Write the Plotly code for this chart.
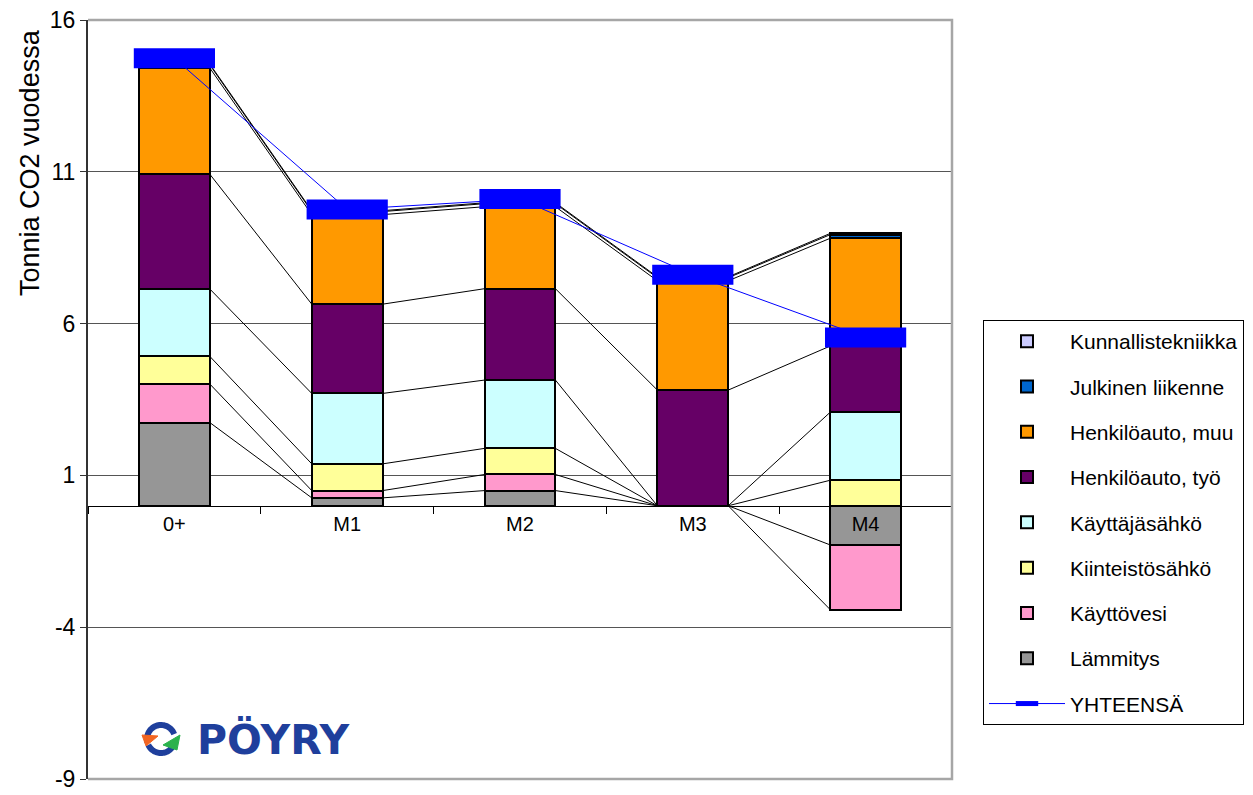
import numpy as np
import plotly.graph_objects as go

# ---------------- data ----------------
categories = ["0+", "M1", "M2", "M3", "M4"]
lammitys = [2.74, 0.26, 0.50, 0.0, -1.29]
kayttovesi = [1.27, 0.24, 0.53, 0.0, -2.13]
kiinteistosahko = [0.91, 0.88, 0.86, 0.0, 0.84]
kayttajasahko = [2.22, 2.32, 2.25, 0.0, 2.24]
henkiloauto_tyo = [3.78, 2.94, 3.01, 3.81, 2.18]
henkiloauto_muu = [3.50, 2.95, 2.70, 3.60, 3.55]
julkinen_liikenne = [0.10, 0.10, 0.10, 0.10, 0.12]
kunnallistekniikka = [0.03, 0.03, 0.03, 0.03, 0.04]
yhteensa = [14.74, 9.76, 10.10, 7.61, 5.54]
y_ticks = [-9, -4, 1, 6, 11, 16]
y_ticklabels = ["-9", "-4", "1", "6", "11", "16"]

series_names = ["Lämmitys", "Käyttövesi", "Kiinteistösähkö", "Käyttäjäsähkö",
                "Henkilöauto, työ", "Henkilöauto, muu", "Julkinen liikenne",
                "Kunnallistekniikka"]
series_values = [lammitys, kayttovesi, kiinteistosahko, kayttajasahko,
                 henkiloauto_tyo, henkiloauto_muu, julkinen_liikenne,
                 kunnallistekniikka]
series_colors = ["#969696", "#FF99CC", "#FFFF99", "#CCFFFF",
                 "#660066", "#FF9900", "#0066CC", "#CCCCFF"]
total_name = "YHTEENSÄ"

# ---------------- layout constants ----------------
W, H = 1253, 795
L, R, T, B = 88, 952, 20, 779
PW, PH = R - L, B - T
BAR_W = 0.41
FONT = "Liberation Sans, Arial, sans-serif"


def px2x(px):
    return (px - L) / PW


def py2y(py):
    return (B - py) / PH


xs = list(range(len(categories)))
fig = go.Figure()

n = len(series_names)
for k, (name, vals, col) in enumerate(zip(series_names, series_values, series_colors)):
    fig.add_trace(go.Bar(
        x=xs, y=vals, name=name, width=BAR_W,
        marker=dict(color=col, line=dict(color="black", width=2)),
        legendrank=n - k, legendgroup=name,
    ))

# series lines connecting the segment ends (positive and negative stacks separately)
pos = np.zeros(len(xs))
neg = np.zeros(len(xs))
cx, cy = [], []
for vals in series_values:
    ends = []
    for i, v in enumerate(vals):
        if v >= 0:
            pos[i] += v
            ends.append(pos[i])
        else:
            neg[i] += v
            ends.append(neg[i])
    for i in range(len(xs) - 1):
        cx += [xs[i] + BAR_W / 2, xs[i + 1] - BAR_W / 2, None]
        cy += [ends[i], ends[i + 1], None]
fig.add_trace(go.Scatter(x=cx, y=cy, mode="lines", line=dict(color="black", width=1),
                         showlegend=False, hoverinfo="skip"))

fig.add_trace(go.Scatter(
    x=xs, y=yhteensa, name=total_name, mode="lines+markers",
    line=dict(color="#0000FF", width=1),
    marker=dict(symbol="line-ew", size=58, color="#0000FF",
                line=dict(color="#0000FF", width=20)),
    legendrank=n + 1, legendgroup=total_name,
))

# plot-area frame (top, right, bottom)
shapes = [dict(type="path", xref="paper", yref="paper",
               path="M 0,1 L 1,1 L 1,0 L 0,0",
               line=dict(color="#a6a6a6", width=2.5), layer="above")]


# logo icon
def arc(cxp, cyp, r, a0, a1, npts=40):
    a = np.radians(np.linspace(a0, a1, npts))
    pts = [(px2x(cxp + r * np.cos(t)), py2y(cyp - r * np.sin(t))) for t in a]
    return "M " + " L ".join(f"{x:.5f},{y:.5f}" for x, y in pts)


def poly(points):
    return "M " + " L ".join(f"{px2x(x):.5f},{py2y(y):.5f}" for x, y in points) + " Z"


logo_blue = "#1f3f9c"
shapes += [
    dict(type="path", xref="paper", yref="paper", path=arc(161, 739, 14, 20, 195),
         line=dict(color=logo_blue, width=6)),
    dict(type="path", xref="paper", yref="paper", path=arc(161, 739, 14, 205, 340),
         line=dict(color=logo_blue, width=6)),
    dict(type="path", xref="paper", yref="paper",
         path=poly([(142, 735), (158, 736), (146, 746)]),
         fillcolor="#f26522", line=dict(color="#f26522", width=1)),
    dict(type="path", xref="paper", yref="paper",
         path=poly([(163, 745), (180, 735), (177, 750)]),
         fillcolor="#2bb24c", line=dict(color="#2bb24c", width=1)),
]

annotations = [
    dict(text="Tonnia CO2 vuodessa", x=px2x(30), y=py2y(163), xref="paper", yref="paper",
         textangle=-90, showarrow=False, font=dict(family=FONT, size=27, color="black"),
         xanchor="center", yanchor="middle"),
    dict(text="<b>PÖYRY</b>", x=px2x(195), y=py2y(740), xref="paper", yref="paper",
         showarrow=False, xanchor="left", yanchor="middle",
         font=dict(family="DejaVu Sans", size=41, color=logo_blue)),
]

fig.update_layout(
    width=W, height=H,
    margin=dict(l=L, r=W - R, t=T, b=H - B, pad=0, autoexpand=False),
    paper_bgcolor="white", plot_bgcolor="white",
    barmode="relative", bargap=0,
    showlegend=True,
    legend=dict(x=px2x(983), y=py2y(320), xanchor="left", yanchor="top",
                bordercolor="black", borderwidth=1, bgcolor="white",
                font=dict(family=FONT, size=21, color="black"),
                traceorder="grouped", tracegroupgap=15, itemwidth=76,
                itemclick=False),
    xaxis=dict(range=[-0.5, len(categories) - 0.5], tickmode="array", tickvals=xs,
               ticktext=categories, anchor="free", position=9 / 25,
               showline=True, linecolor="black", linewidth=1, ticks="",
               showgrid=False, zeroline=False, automargin=False,
               tickfont=dict(family=FONT, size=20, color="black"),
               minor=dict(tickmode="array",
                          tickvals=[i - 0.5 for i in range(len(categories) + 1)],
                          ticks="outside", ticklen=7, tickcolor="black", tickwidth=1,
                          showgrid=False)),
    yaxis=dict(range=[-9, 16], tickmode="array", tickvals=y_ticks,
               ticktext=y_ticklabels,
               showgrid=True, gridcolor="#555555", gridwidth=1,
               showline=True, linecolor="#333333", linewidth=2,
               ticks="outside", ticklen=6, tickcolor="#333333",
               zeroline=False, automargin=False,
               tickfont=dict(family=FONT, size=23, color="black")),
    shapes=shapes,
    annotations=annotations,
)

fig.write_html("out.html")
